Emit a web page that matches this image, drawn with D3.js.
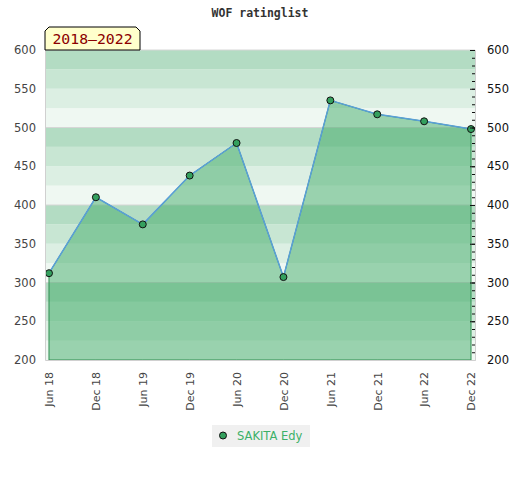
<!DOCTYPE html>
<html>
<head>
<meta charset="utf-8">
<script src="https://cdn.jsdelivr.net/npm/d3@7"></script>
<style>
  body { margin: 0; background: #fff; }
  svg { display: block; }
</style>
</head>
<body>
<svg width="520" height="480"></svg>
<script>
var periods = ["Jun 18", "Dec 18", "Jun 19", "Dec 19", "Jun 20", "Dec 20", "Jun 21", "Dec 21", "Jun 22", "Dec 22"];
var ratings = [312, 410, 375, 438, 480, 307, 535, 517, 508, 498];
var yTicks = [200, 250, 300, 350, 400, 450, 500, 550, 600];
var seriesName = "SAKITA Edy";
var rangeLabel = "2018\u20132022";

var svg = d3.select("svg"),
    margin = {top: 50, right: 45, bottom: 120, left: 45},
    width = +svg.attr("width") - margin.left - margin.right,
    height = +svg.attr("height") - margin.top - margin.bottom,
    g = svg.append("g").attr("transform", "translate(" + margin.left + "," + margin.top + ")");

var x = d3.scalePoint()
    .domain(periods)
    .range([0, width])
    .padding(0.085);

var y = d3.scaleLinear()
    .domain([200, 600])
    .range([height, 0]);

// background stripes, each 100 block fades from dark to light
var bandColors = ["#b3dcc3", "#c8e6d3", "#dcefe3", "#eff8f2"];
var bands = d3.range(200, 600, 25);
g.append("g").selectAll("rect")
  .data(bands)
  .enter().append("rect")
    .attr("x", 0)
    .attr("width", width)
    .attr("y", function(d) { return y(d + 25); })
    .attr("height", function(d) { return y(d) - y(d + 25); })
    .attr("fill", function(d) { return bandColors[3 - ((d - 200) % 100) / 25]; });

g.append("g").selectAll("line")
  .data([300, 400, 500, 600])
  .enter().append("line")
    .attr("x1", 0)
    .attr("x2", width)
    .attr("y1", function(d) { return y(d); })
    .attr("y2", function(d) { return y(d); })
    .attr("stroke", "#d6d6d6");

var area = d3.area()
  .x(function(d, i) { return x(periods[i]); })
  .y0(y(200))
  .y1(function(d) { return y(d); });

var line = d3.line()
  .x(function(d, i) { return x(periods[i]); })
  .y(function(d) { return y(d); });

g.append("path")
    .datum(ratings)
    .attr("fill", "rgba(58,168,98,0.47)")
    .attr("stroke", "#2f8f50")
    .attr("stroke-width", 1)
    .attr("d", area);

g.append("path")
    .datum(ratings)
    .attr("fill", "none")
    .attr("stroke", "#5a9fd8")
    .attr("stroke-width", 1.5)
    .attr("stroke-linejoin", "round")
    .attr("d", line);

g.append("g").selectAll("circle")
  .data(ratings)
  .enter().append("circle")
    .attr("cx", function(d, i) { return x(periods[i]); })
    .attr("cy", function(d) { return y(d); })
    .attr("r", 3.5)
    .attr("fill", "#34a05e")
    .attr("stroke", "#111")
    .attr("stroke-width", 1);

// left axis
var left = g.append("g")
    .call(d3.axisLeft(y).tickValues(yTicks).tickSize(0).tickPadding(9));
left.select(".domain").attr("stroke", "#d0d0d0");
left.selectAll("text")
    .attr("fill", "#444")
    .style("font", "11.5px 'DejaVu Sans'");

// right axis with minor ticks
var rightMinor = g.append("g")
    .attr("transform", "translate(" + width + ",0)")
    .call(d3.axisRight(y).tickValues(d3.range(200, 601, 10)).tickSize(-3).tickFormat(""));
rightMinor.select(".domain").attr("stroke", "#d0d0d0");
rightMinor.selectAll(".tick line").attr("stroke", "#111");

var right = g.append("g")
    .attr("transform", "translate(" + width + ",0)")
    .call(d3.axisRight(y).tickValues(yTicks).tickSize(-5).tickPadding(12));
right.select(".domain").remove();
right.selectAll(".tick line").attr("stroke", "#111");
right.selectAll("text")
    .attr("fill", "#111")
    .style("font", "11.5px 'DejaVu Sans'");

// bottom axis
var bottom = g.append("g")
    .attr("transform", "translate(0," + height + ")")
    .call(d3.axisBottom(x).tickSize(0).tickPadding(0));
bottom.select(".domain").attr("stroke", "#d0d0d0");
bottom.selectAll("text")
    .attr("fill", "#444")
    .style("font", "11px 'DejaVu Sans'")
    .attr("text-anchor", "end")
    .attr("transform", "rotate(-90)")
    .attr("x", -12)
    .attr("y", 0)
    .attr("dy", "0.35em");

// title
svg.append("text")
    .attr("x", 260)
    .attr("y", 17)
    .attr("text-anchor", "middle")
    .attr("fill", "#333")
    .style("font", "bold 11.5px 'DejaVu Sans Mono'")
    .text("WOF ratinglist");

// period label box
var bx = margin.left, by = 27, bw = 95, bh = 23, c = 4;
svg.append("path")
    .attr("d", "M" + bx + "," + (by + bh) + "V" + (by + c) + "L" + (bx + c) + "," + by +
      "H" + (bx + bw - c) + "L" + (bx + bw) + "," + (by + c) + "V" + (by + bh) + "Z")
    .attr("fill", "#ffffcc")
    .attr("stroke", "#000")
    .attr("stroke-width", 1);
svg.append("text")
    .attr("x", bx + bw / 2)
    .attr("y", 44)
    .attr("text-anchor", "middle")
    .attr("fill", "#8b0000")
    .style("font", "14.8px 'DejaVu Sans Mono'")
    .text(rangeLabel);

// legend
var legend = svg.append("g").attr("transform", "translate(212,425)");
legend.append("rect")
    .attr("width", 98)
    .attr("height", 22)
    .attr("fill", "#f0f0f0");
legend.append("circle")
    .attr("cx", 11)
    .attr("cy", 10.5)
    .attr("r", 3.5)
    .attr("fill", "#34a05e")
    .attr("stroke", "#111");
legend.append("text")
    .attr("x", 25)
    .attr("y", 15)
    .attr("fill", "#3cb068")
    .style("font", "11.5px 'DejaVu Sans'")
    .text(seriesName);
</script>
</body>
</html>
